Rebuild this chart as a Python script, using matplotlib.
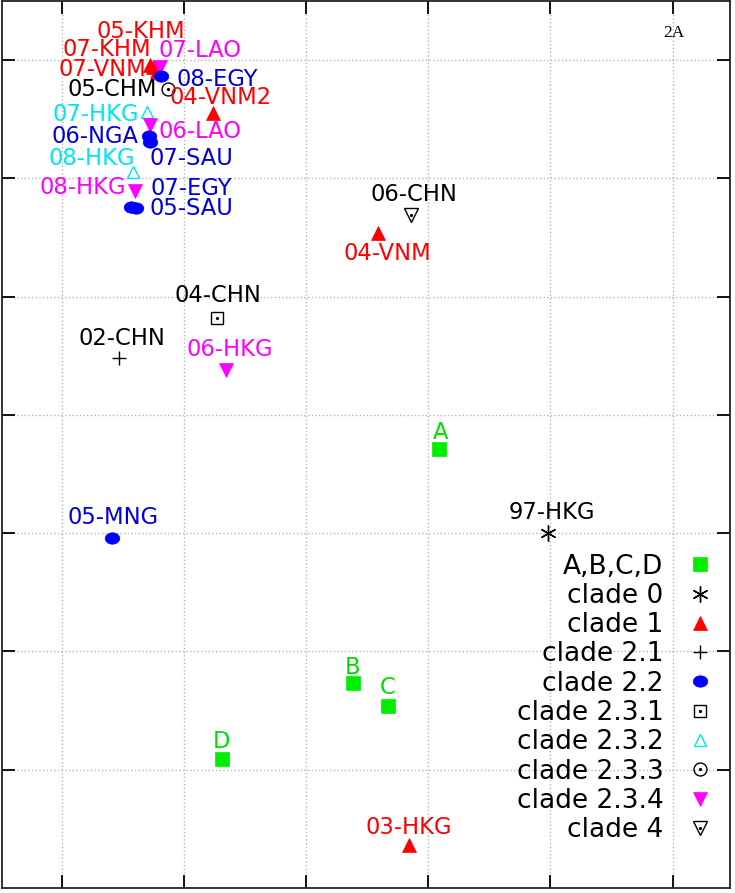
import matplotlib
matplotlib.use('Agg')
import matplotlib.pyplot as plt
from matplotlib.lines import Line2D
from matplotlib.path import Path
from matplotlib.transforms import Affine2D

# antigenic map coordinates (grid units)
strains = ['A', 'B', 'C', 'D',
           '97-HKG',
           '03-HKG', '04-VNM', '05-KHM', '07-KHM', '07-VNM', '04-VNM2',
           '02-CHN',
           '05-MNG', '08-EGY', '06-NGA', '07-SAU', '07-EGY', '05-SAU',
           '04-CHN',
           '07-HKG', '08-HKG',
           '05-CHM',
           '07-LAO', '06-LAO', '08-HKG', '06-HKG',
           '06-CHN']
x_vals = [3.09, 2.38, 2.67, 1.31,
          3.98,
          2.84, 2.59, 0.72, 0.75, 0.78, 1.24,
          0.47,
          0.41, 0.81, 0.71, 0.72, 0.57, 0.61,
          1.27,
          0.70, 0.58,
          0.87,
          0.80, 0.72, 0.60, 1.34,
          2.86]
y_vals = [2.71, 0.73, 0.54, 0.09,
          2.00,
          -0.64, 4.54, 5.96, 5.94, 5.91, 5.55,
          3.48,
          1.96, 5.87, 5.36, 5.31, 4.76, 4.75,
          3.82,
          5.56, 5.05,
          5.76,
          5.94, 5.45, 4.89, 3.38,
          4.69]
clades = ['A,B,C,D'] * 4 + ['clade 0'] + ['clade 1'] * 6 + ['clade 2.1'] + \
         ['clade 2.2'] * 6 + ['clade 2.3.1'] + ['clade 2.3.2'] * 2 + \
         ['clade 2.3.3'] + ['clade 2.3.4'] * 4 + ['clade 4']
clade_order = ['A,B,C,D', 'clade 0', 'clade 1', 'clade 2.1', 'clade 2.2',
               'clade 2.3.1', 'clade 2.3.2', 'clade 2.3.3', 'clade 2.3.4', 'clade 4']

# label offsets in pixels (dx, dy) from each marker
offsets = [(1, 17), (0, 16), (0, 18), (0, 18),
           (4, 21),
           (0, 18), (9, -21), (-9, 33), (-47, 18), (-55, 1), (7, 16),
           (3, 20),
           (1, 20), (56, -4), (-54, -1), (42, -17), (60, 18), (55, -1),
           (1, 22),
           (-52, -2), (-41, 14),
           (-56, -1),
           (40, 17), (50, -6), (-52, 4), (4, 20),
           (3, 21)]

ellipse = Path.unit_circle().transformed(Affine2D().scale(1.0, 0.78))

# marker, size, face, edge, text colour, centre dot
STYLES = {
    'A,B,C,D': ('s', 10, '#00ee00', '#00ee00', '#00dd00', False),
    'clade 0': ((6, 2, 0), 11.5, 'k', 'k', 'k', False),
    'clade 1': ('^', 9.5, 'red', 'red', 'red', False),
    'clade 2.1': ('+', 9.5, 'k', 'k', 'k', False),
    'clade 2.2': (ellipse, 10.5, 'blue', 'blue', '#0000dd', False),
    'clade 2.3.1': ('s', 9.3, 'none', 'k', 'k', True),
    'clade 2.3.2': ('^', 9, 'none', '#00e5ee', '#00e5ee', False),
    'clade 2.3.3': ('o', 9.3, 'none', 'k', 'k', True),
    'clade 2.3.4': ('v', 9.5, '#ff00ff', '#ff00ff', '#ff00ff', False),
    'clade 4': ('v', 9.5, 'none', 'k', 'k', True),
}
ZORD = {'clade 2.2': 4}

fig = plt.figure(figsize=(7.35, 8.93), dpi=100)
ax = fig.add_axes([2 / 735, 5 / 893, 728 / 735, 887 / 893])
ax.set_xlim(-0.49, 5.47)
ax.set_ylim(-1.0, 6.5)
ax.set_xticks(range(0, 6))
ax.set_yticks(range(0, 7))
ax.tick_params(direction='in', length=9.5, width=1.3, top=True, right=True,
               labelbottom=False, labelleft=False)
for sp in ax.spines.values():
    sp.set_linewidth(1.3)
    sp.set_color('#222222')
ax.grid(True, linestyle=':', color='#b5b5b5', linewidth=1)
ax.set_axisbelow(True)

handles = []
for c in clade_order:
    mk, ms, fc, ec, tc, dot = STYLES[c]
    xs = [x for x, k in zip(x_vals, clades) if k == c]
    ys = [y for y, k in zip(y_vals, clades) if k == c]
    lw = 1.0 if fc == 'none' or mk == '+' or isinstance(mk, tuple) else 0.5
    ax.plot(xs, ys, linestyle='none', marker=mk, markersize=ms,
            markerfacecolor=fc, markeredgecolor=ec, markeredgewidth=lw,
            zorder=ZORD.get(c, 3))
    h = Line2D([], [], linestyle='none', marker=mk, markersize=ms,
               markerfacecolor=fc, markeredgecolor=ec, markeredgewidth=lw)
    if dot:
        ax.plot(xs, ys, linestyle='none', marker='o', markersize=1.3,
                color=ec, zorder=3)
        h = (h, Line2D([], [], linestyle='none', marker='o', markersize=1.3, color=ec))
    handles.append(h)

for name, x, y, c, (dx, dy) in zip(strains, x_vals, y_vals, clades, offsets):
    ax.annotate(name, (x, y), xytext=(dx, dy), textcoords='offset pixels',
                ha='center', va='center', fontsize=16.3, color=STYLES[c][4],
                zorder=5)

ax.legend(handles, clade_order, loc='upper right', bbox_to_anchor=(0.992, 0.389),
          frameon=False, markerfirst=False, fontsize=19, labelspacing=0.125,
          handlelength=1.0, handletextpad=0.9, borderaxespad=0)

ax.text(5.01, 6.23, '2A', fontfamily='Liberation Serif', fontsize=12.5,
        ha='center', va='center')

fig.savefig('out.png', dpi=100)
